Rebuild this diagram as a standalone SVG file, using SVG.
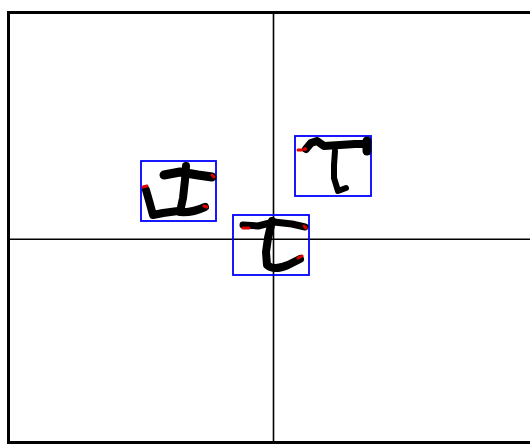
<svg xmlns="http://www.w3.org/2000/svg" width="530" height="444" viewBox="0 0 530 444">
<style>
.frame{stroke:#000;stroke-width:3;fill:none}
.axis{stroke:#000;stroke-width:1.6;fill:none}
.box{stroke:#0000ff;stroke-width:1.8;fill:none}
.ink{stroke:#000;fill:none;stroke-linecap:round;stroke-linejoin:round}
.red{stroke:#e00000;fill:none;stroke-width:3;stroke-linecap:round}
</style>
<rect x="0" y="0" width="530" height="444" fill="#fff"/>
<g id="frame">
<path class="frame" d="M8.5,444 L8.5,12.5 L530,12.5"/>
<path class="frame" d="M8.5,442.5 L530,442.5"/>
</g>
<g id="connectors">
<line class="axis" x1="273.5" y1="12" x2="273.5" y2="442"/>
<line class="axis" x1="9" y1="239.2" x2="530" y2="239.2"/>
</g>
<g id="glyph1">
<rect class="box" x="141" y="161" width="75" height="60"/>
<path class="ink" stroke-width="9" d="M164,175 L180,172 L198,175 L212,177"/>
<path class="ink" stroke-width="8" d="M186,166 L185,180 L183,198 L180,212 Q192,213 205,207"/>
<path class="ink" stroke-width="8" d="M146,190 L150,204 L153,215 L163,213 L178,211"/>
<path class="red" d="M143,187 L147,186"/>
<path class="red" d="M212,175 L214,177"/>
<path class="red" d="M204,206 L207,207"/>
</g>
<g id="glyph2">
<rect class="box" x="233" y="215" width="76" height="60"/>
<path class="ink" stroke-width="7" d="M243,225 L258,226 L274,222 L292,224 L305,227"/>
<path class="ink" stroke-width="8" d="M272,221 L268,238 L266,252 L267,265 Q274,271 288,265 L300,259"/>
<path class="red" d="M243,228 L249,228"/>
<path class="red" d="M304,226 L306,228"/>
<path class="red" d="M298,258 L302,256"/>
</g>
<g id="glyph3">
<rect class="box" x="295" y="136" width="76" height="60"/>
<path class="ink" stroke-width="8" d="M306,149 L311,143 L317,141 L324,146 L340,145 L355,144 L367,144"/>
<path class="ink" stroke-width="9" d="M367,141 L367,151"/>
<path class="ink" stroke-width="6" d="M335,151 L334,165 L334,178 L338,191 L346,188"/>
<path class="red" d="M298,150 L302,150"/>
<circle cx="305" cy="149" r="2" fill="#e00000"/>
</g>
</svg>
